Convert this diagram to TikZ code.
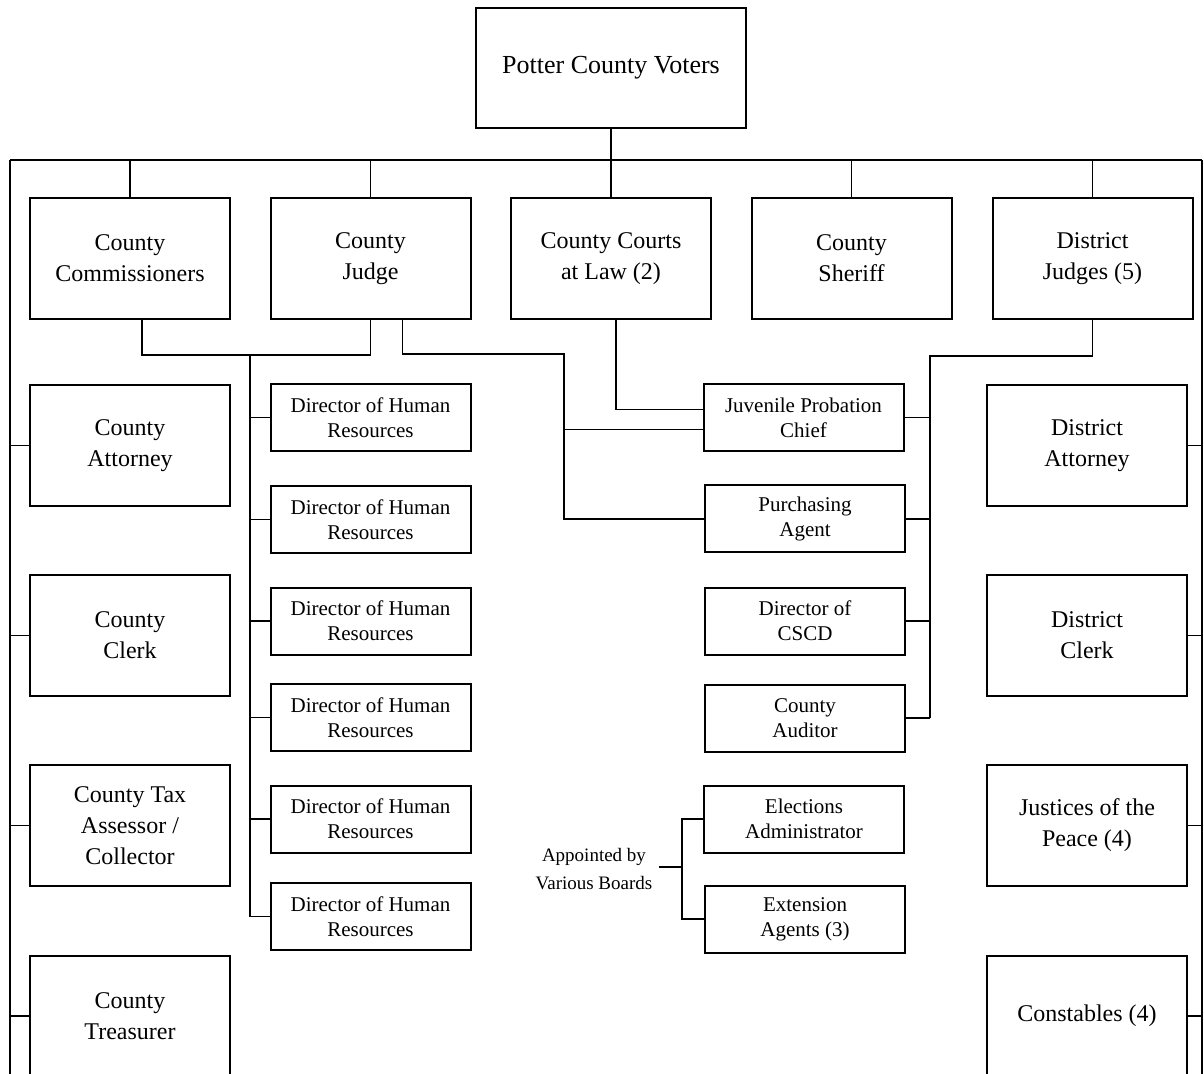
\documentclass[tikz,border=0pt]{standalone}
\usepackage{fontspec}
\setmainfont{Liberation Serif}
\usetikzlibrary{positioning,calc}
\tikzset{bigbox/.style={draw,line width=1pt,minimum width=100pt,minimum height=60.5pt,align=center,font=\fontsize{12}{15.5}\selectfont},
         smallbox/.style={draw,line width=1pt,minimum width=100pt,minimum height=33.5pt,align=center,font=\fontsize{10.5}{12.5}\selectfont},
         line/.style={line width=0.9pt}
}

\begin{document}
\begin{tikzpicture}[x=0.5pt,y=0.5pt,yscale=-1,xscale=1]
\clip (0,0) rectangle (1204,1074);

%Top box
\node [draw,line width=1pt,minimum width=135pt,minimum height=60pt,font=\fontsize{13}{15}\selectfont] (voters) at (611,68) {Potter County Voters};

%Bus ends
\coordinate (busL) at (10,160);
\coordinate (busR) at (1202,160);
\coordinate (leftbot) at (10,1080);
\coordinate (rightbot) at (1202,1080);

%Elected row
\node [bigbox] (commiss) at (130,258.5) {County\\Commissioners};
\node [bigbox] (judge) at (370.5,258.5) {County\\Judge};
\node [bigbox] (courts) at (611,258.5) {County Courts\\at Law (2)};
\node [bigbox] (sheriff) at (851.5,258.5) {County\\Sheriff};
\node [bigbox] (dj) at (1092.5,258.5) {District\\Judges (5)};

%Left column
\node [bigbox] (cattorney) at (130,445.5) {County\\Attorney};
\node [bigbox] (cclerk) at (130,635.5) {County\\Clerk};
\node [bigbox] (tax) at (130,825.5) {County Tax\\Assessor /\\Collector};
\node [bigbox] (treas) at (130,1016) {County\\Treasurer};

%Right column
\node [bigbox] (dattorney) at (1087,445.5) {District\\Attorney};
\node [bigbox] (dclerk) at (1087,635.5) {District\\Clerk};
\node [bigbox] (jp) at (1087,825.5) {Justices of the\\Peace (4)};
\node [bigbox] (const) at (1087,1016) {Constables (4)};

%Appointed by commissioners and judge
\foreach \i/\y in {1/417.5,2/519.5,3/621,4/717.5,5/819,6/916.5}
  \node [smallbox] (hr\i) at (370.5,\y) {Director of Human\\Resources};

%Middle column
\node [smallbox] (juv) at (803.5,417.5) {Juvenile Probation\\Chief};
\node [smallbox] (purch) at (805,519) {Purchasing\\Agent};
\node [smallbox] (cscd) at (805,621) {Director of\\CSCD};
\node [smallbox] (aud) at (805,718) {County\\Auditor};
\node [smallbox] (elect) at (804,819) {Elections\\Administrator};
\node [smallbox] (ext) at (805,919) {Extension\\Agents (3)};
\node [align=center,font=\fontsize{9.5}{14}\selectfont] (boards) at (594,869) {Appointed by\\Various Boards};

%Voters to the bus
\draw [line] (voters.south) -- (voters.south |- busL);
\draw [line] (busL) -- (busR);
\draw [line] (busL) -- (leftbot);
\draw [line] (busR) -- (rightbot);
\foreach \n in {commiss,judge,courts,sheriff,dj}
  \draw [line] (\n.north) -- (\n.north |- busL);
\foreach \n in {cattorney,cclerk,tax,treas}
  \draw [line] (\n.west) -- (\n.west -| busL);
\foreach \n in {dattorney,dclerk,jp,const}
  \draw [line] (\n.east) -- (\n.east -| busR);

%Commissioners and judge
\coordinate (cjmid) at (250,355);
\draw [line] ([xshift=6pt]commiss.south) |- (cjmid) -| (judge.south);
\draw [line] (cjmid) -- (cjmid |- hr6.west);
\foreach \i in {1,...,6}
  \draw [line] (hr\i.west) -- (hr\i.west -| cjmid);

%Judge to juvenile and purchasing
\coordinate (jbend) at (564,354);
\coordinate (juvin) at ([yshift=6pt]juv.west);
\draw [line] ([xshift=16pt]judge.south) |- (jbend) |- (purch.west);
\draw [line] (juvin -| jbend) -- (juvin);

%Courts at law to juvenile
\draw [line] ([xshift=2.5pt]courts.south) |- ([yshift=-4pt]juv.west);

%District judges
\coordinate (djbend) at (930,356);
\draw [line] (dj.south) |- (djbend) -- (djbend |- aud.east);
\foreach \n in {juv,purch,cscd,aud}
  \draw [line] (\n.east) -- (\n.east -| djbend);

%Various boards
\coordinate (brk) at (682,867);
\draw [line] (boards.east |- brk) -- (brk);
\draw [line] (elect.west) -| (brk) |- (ext.west);

\end{tikzpicture}
\end{document}
